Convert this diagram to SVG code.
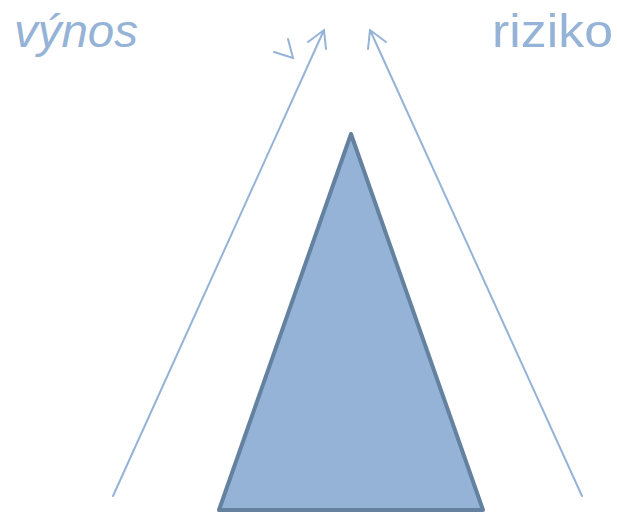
<svg xmlns="http://www.w3.org/2000/svg" width="617" height="512" viewBox="0 0 617 512">
<style>
.lbl{font-family:"Liberation Sans",Arial,sans-serif;font-size:46px;fill:#95B3D7}
.ar{stroke:#95B3D7;stroke-width:2;fill:none;stroke-linecap:round}
</style>
<rect width="617" height="512" fill="#fff"/>
<g id="triangle"><polygon points="351,134 219,510 483,510" fill="#95B3D7" stroke="#64829F" stroke-width="4" stroke-linejoin="round"/></g>
<g id="label-vynos"><text class="lbl" x="14" y="47" font-style="italic" textLength="124" lengthAdjust="spacingAndGlyphs">výnos</text></g>
<g id="label-riziko"><text class="lbl" x="492" y="47" textLength="121" lengthAdjust="spacingAndGlyphs">riziko</text></g>
<g id="connectors">
<path class="ar" d="M113,496 L324,30 M308,42 L324,30 L326,49"/>
<path class="ar" d="M582,496 L370,30 M368,49 L370,30 L386,42"/>
<path class="ar" d="M288,39 L293,58 L274,52"/>
</g>
</svg>
